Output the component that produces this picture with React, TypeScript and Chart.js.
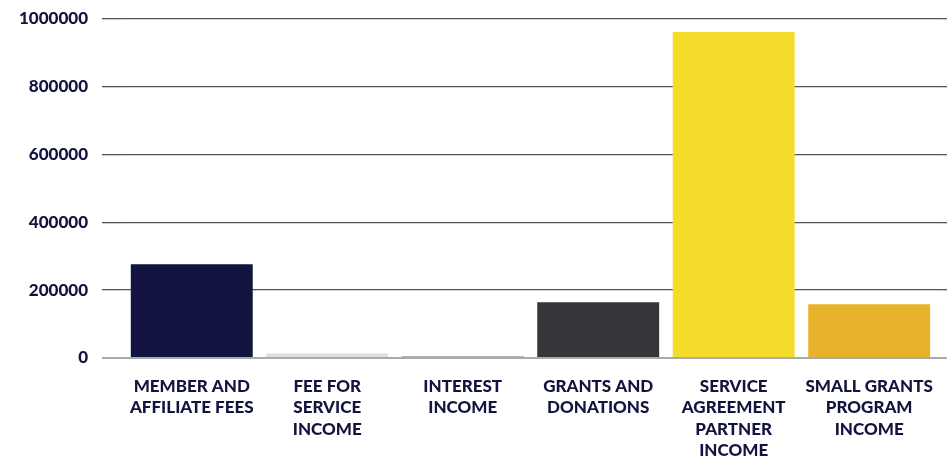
import React, { useEffect, useRef } from "react";
import { Chart, registerables } from "chart.js";

Chart.register(...registerables);

const categories: string[][] = [
  ["MEMBER AND", "AFFILIATE FEES"],
  ["FEE FOR", "SERVICE", "INCOME"],
  ["INTEREST", "INCOME"],
  ["GRANTS AND", "DONATIONS"],
  ["SERVICE", "AGREEMENT", "PARTNER", "INCOME"],
  ["SMALL GRANTS", "PROGRAM", "INCOME"],
];
const values: number[] = [276000, 13500, 5500, 164000, 960000, 158000];
const barColors: string[] = ["#12133f", "#dedede", "#999999", "#35363a", "#f5dc2b", "#e9b22b"];
const yTicks: number[] = [0, 200000, 400000, 600000, 800000, 1000000];

export default function App() {
  const ref = useRef<HTMLCanvasElement | null>(null);
  useEffect(() => {
    document.body.style.margin = "0";
    if (!ref.current) return;
    const gridColor = (c: any) => (c.tick && c.tick.value === 0 ? "#aaaaaa" : "#555555");
    const gridWidth = (c: any) => (c.tick && c.tick.value === 0 ? 2 : 1.3);
    const chart = new Chart(ref.current, {
      type: "bar",
      data: {
        labels: categories,
        datasets: [
          {
            data: values,
            backgroundColor: barColors,
            barPercentage: 0.9,
            categoryPercentage: 1,
          },
        ],
      },
      options: {
        animation: false,
        responsive: true,
        maintainAspectRatio: false,
        layout: { padding: { top: 0, right: 4, left: 5, bottom: -18 } },
        plugins: { legend: { display: false }, tooltip: { enabled: false } },
        scales: {
          x: {
            grid: { display: false, drawTicks: false },
            border: { display: false },
            ticks: {
              color: "#12133f",
              font: { family: "Lato", weight: 900, size: 17, lineHeight: 1.25 },
              padding: 18,
              maxRotation: 0,
              autoSkip: false,
            },
          },
          y: {
            min: 0,
            max: 1000000,
            afterBuildTicks: (axis: any) => {
              axis.ticks = yTicks.map((v) => ({ value: v }));
            },
            grid: { color: gridColor, lineWidth: gridWidth, drawTicks: true, tickLength: 22 },
            border: { display: false },
            ticks: {
              color: "#12133f",
              font: { family: "Lato", weight: 900, size: 17, lineHeight: 0.53 },
              padding: 14,
              callback: (v: any) => String(v),
            },
          },
          y2: {
            position: "right",
            min: 0,
            max: 1000000,
            afterBuildTicks: (axis: any) => {
              axis.ticks = yTicks.map((v) => ({ value: v }));
            },
            grid: { color: gridColor, lineWidth: gridWidth, drawOnChartArea: false, drawTicks: true, tickLength: 10 },
            border: { display: false },
            ticks: { display: false },
          },
        },
      },
    });
    return () => chart.destroy();
  }, []);
  return (
    <div style={{ width: 952, height: 461, position: "relative" }}>
      <canvas ref={ref} />
    </div>
  );
}
